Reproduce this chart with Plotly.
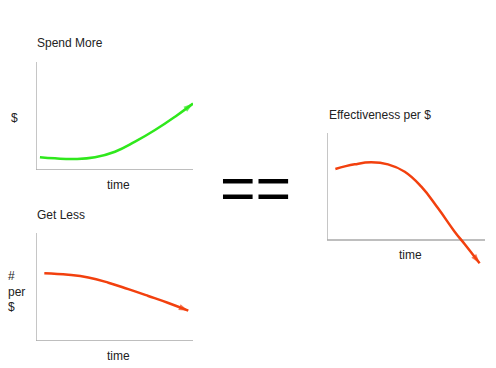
import plotly.graph_objects as go

W, H = 496, 368

# ---- data (arbitrary 0-10 units) ----
spend_x = [0.25, 1.21, 2.48, 3.76, 5.03, 6.31, 7.58, 8.86, 10.0]
spend_y = [1.18, 1.08, 1.02, 1.18, 1.69, 2.62, 3.70, 4.94, 6.15]

get_x = [0.53, 2.06, 3.33, 4.61, 5.88, 7.15, 8.43, 9.70]
get_y = [6.27, 6.13, 5.88, 5.40, 4.80, 4.17, 3.52, 2.81]

eff_x = [0.53, 1.75, 2.80, 3.86, 4.92, 5.97, 7.03, 8.08, 8.72, 9.66]
eff_y = [6.64, 7.07, 7.26, 7.07, 6.38, 4.98, 2.96, 0.78, -0.40, -2.18]

titles = ["Spend More", "Get Less", "Effectiveness per $"]
x_label = "time"
y_labels = ["$", "#<br>per<br>$"]

GREEN = "#2fe81c"
RED = "#f2400e"
AXIS = "#a8a8a8"
TXT = "#222222"
FONT = "Liberation Sans, Arial, sans-serif"


def px_x(p):
    return p / W


def px_y(p):
    return 1 - p / H


fig = go.Figure()


def curve(xs, ys, color, xa, ya):
    n = len(xs)
    fig.add_trace(go.Scatter(
        x=xs, y=ys, xaxis=xa, yaxis=ya, mode="lines+markers",
        line=dict(color=color, width=2.5, shape="spline", smoothing=1.3),
        marker=dict(symbol=["circle"] * (n - 1) + ["arrow"],
                    size=[0] * (n - 1) + [10], color=color,
                    angleref="previous", line=dict(width=0)),
        hoverinfo="skip", showlegend=False, cliponaxis=False,
    ))


curve(spend_x, spend_y, GREEN, "x", "y")
curve(get_x, get_y, RED, "x2", "y2")
curve(eff_x, eff_y, RED, "x3", "y3")

ax = dict(visible=False, fixedrange=True)
fig.update_layout(
    width=W, height=H, margin=dict(l=0, r=0, t=0, b=0),
    paper_bgcolor="white", plot_bgcolor="white",
    xaxis=dict(ax, domain=[px_x(36), px_x(193)], range=[0, 10]),
    yaxis=dict(ax, domain=[px_y(170), px_y(62)], range=[0, 10]),
    xaxis2=dict(ax, domain=[px_x(36), px_x(193)], range=[0, 10]),
    yaxis2=dict(ax, domain=[px_y(341), px_y(233)], range=[0, 10]),
    xaxis3=dict(ax, domain=[px_x(327), px_x(485)], range=[0, 10]),
    yaxis3=dict(ax, domain=[px_y(266.75), px_y(133)], range=[-2.5, 10]),
)

# axis lines drawn in data coordinates of each subplot
for xr, yr in [("x", "y"), ("x2", "y2"), ("x3", "y3")]:
    fig.add_shape(type="line", xref=xr, yref=yr, x0=0, y0=0, x1=0, y1=10,
                  line=dict(color=AXIS, width=1.3), layer="below")
    fig.add_shape(type="line", xref=xr, yref=yr, x0=0, y0=0, x1=10, y1=0,
                  line=dict(color=AXIS, width=1.3), layer="below")

f12 = dict(family=FONT, size=12, color=TXT)


def text(t, x, y, xanchor="left", font=f12, align="left"):
    fig.add_annotation(text=t, x=px_x(x), y=px_y(y), xref="paper", yref="paper",
                       xanchor=xanchor, yanchor="middle", showarrow=False,
                       font=font, align=align)


text(titles[0], 35, 43)
text(titles[1], 35, 215)
text(titles[2], 327, 115)
text(x_label, 118, 185, "center")
text(x_label, 118, 356, "center")
text(x_label, 410, 255, "center")
text(y_labels[0], 9, 118)
text(y_labels[1], 6, 291)
text("==", 255, 188, "center",
     font=dict(family=FONT, size=61, color="black"))

fig.write_html(
    "out.html",
    config={"displayModeBar": False, "staticPlot": True},
    post_script="document.body.style.margin='0';document.body.style.overflow='hidden';",
)
